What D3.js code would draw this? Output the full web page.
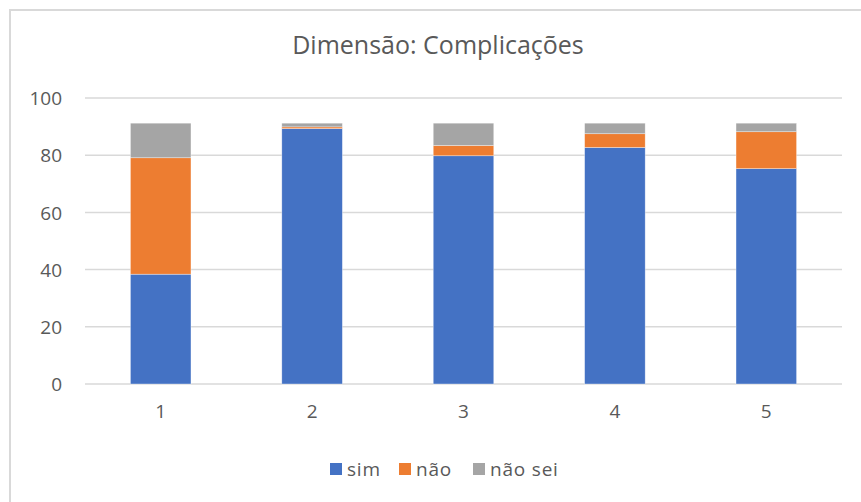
<!DOCTYPE html>
<html>
<head>
<meta charset="utf-8">
<script src="https://cdn.jsdelivr.net/npm/d3@7/dist/d3.min.js"></script>
<style>
  html, body { margin: 0; padding: 0; background: #fff; }
  svg { display: block; }
  text { font-family: "Open Sans", sans-serif; fill: #595959; }
</style>
</head>
<body>
<script>
// Categories and stacked series values (%)
const categories = ["1", "2", "3", "4", "5"];
const sim = [38.4, 89.3, 79.8, 82.7, 75.3];
const nao = [40.7, 0.6, 3.6, 4.8, 12.9];
const naoSei = [12.1, 1.3, 7.8, 3.7, 3.0];
const seriesNames = ["sim", "não", "não sei"];
const yTicks = [0, 20, 40, 60, 80, 100];
const title = "Dimensão: Complicações";

const colors = ["#4472C4", "#ED7D31", "#A5A5A5"];

const W = 861, H = 502;
const svg = d3.select("body").append("svg").attr("width", W).attr("height", H);

// chart frame
svg.append("rect")
  .attr("x", 10).attr("y", 10)
  .attr("width", 880).attr("height", 520)
  .attr("fill", "none").attr("stroke", "#D9D9D9").attr("stroke-width", 2);

const x = d3.scaleBand().domain(categories).range([85, 842])
  .paddingInner(0.6).paddingOuter(0.3);
const y = d3.scaleLinear().domain([0, 100]).range([384, 98]);

// gridlines
svg.append("g").selectAll("line").data(yTicks).join("line")
  .attr("x1", 85).attr("x2", 842)
  .attr("y1", d => y(d)).attr("y2", d => y(d))
  .attr("stroke", "#D9D9D9").attr("stroke-width", 1.5);

// y labels
const yAxis = d3.axisLeft(y).tickValues(yTicks).tickSize(0).tickPadding(0);
const gy = svg.append("g").attr("transform", "translate(62,0)").call(yAxis);
gy.select(".domain").remove();
gy.selectAll("text")
  .attr("font-size", 19).attr("font-family", "Open Sans, sans-serif")
  .attr("fill", "#595959").attr("dy", "0.35em");

// x labels
const xAxis = d3.axisBottom(x).tickSize(0).tickPadding(0);
const gx = svg.append("g").attr("transform", "translate(0,404)").call(xAxis);
gx.select(".domain").remove();
gx.selectAll("text")
  .attr("font-size", 19).attr("font-family", "Open Sans, sans-serif")
  .attr("fill", "#595959").attr("dy", "0.71em");

// stacked bars
const rows = categories.map((c, i) => ({ cat: c, "sim": sim[i], "não": nao[i], "não sei": naoSei[i] }));
const stack = d3.stack().keys(seriesNames)(rows);

svg.append("g").selectAll("g").data(stack).join("g")
  .attr("fill", (d, i) => colors[i])
  .selectAll("rect").data(d => d).join("rect")
  .attr("x", d => x(d.data.cat))
  .attr("width", x.bandwidth())
  .attr("y", d => y(d[1]))
  .attr("height", d => y(d[0]) - y(d[1]))
  .attr("stroke", "#fff").attr("stroke-width", 0.6).attr("stroke-opacity", 0.6);

// title
svg.append("text")
  .attr("x", 438).attr("y", 54)
  .attr("text-anchor", "middle")
  .attr("font-size", 25)
  .text(title);

// legend
const legendX = [330, 399, 473];
const lg = svg.append("g");
seriesNames.forEach((name, i) => {
  lg.append("rect").attr("x", legendX[i]).attr("y", 463)
    .attr("width", 12).attr("height", 12).attr("fill", colors[i]);
  lg.append("text").attr("x", legendX[i] + 17).attr("y", 476)
    .attr("font-size", 19).attr("letter-spacing", 0.8).text(name);
});
</script>
</body>
</html>
